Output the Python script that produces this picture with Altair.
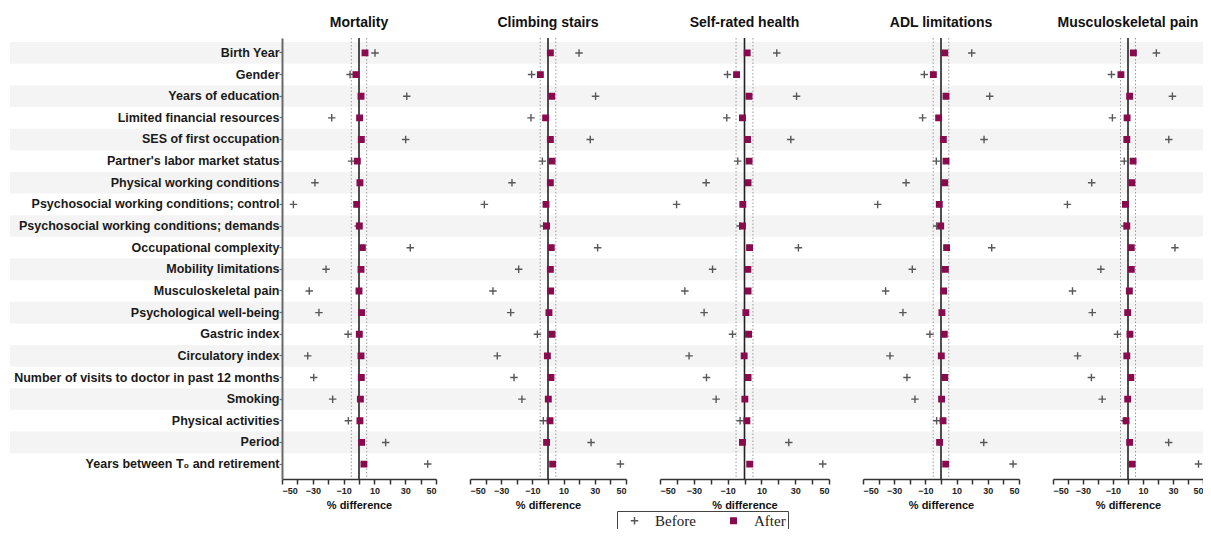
import altair as alt
import pandas as pd

labels = [
    "Birth Year", "Gender", "Years of education", "Limited financial resources",
    "SES of first occupation", "Partner's labor market status", "Physical working conditions",
    "Psychosocial working conditions; control", "Psychosocial working conditions; demands",
    "Occupational complexity", "Mobility limitations", "Musculoskeletal pain",
    "Psychological well-being", "Gastric index", "Circulatory index",
    "Number of visits to doctor in past 12 months", "Smoking", "Physical activities",
    "Period", "Years between T\u2080 and retirement",
]

panels = ["Mortality", "Climbing stairs", "Self-rated health", "ADL limitations", "Musculoskeletal pain"]

mortality_before = [10.4, -5.8, 31.0, -17.7, 30.3, -4.8, -28.6, -42.6, -0.5, 33.3,
                    -21.4, -32.3, -26.0, -7.1, -33.3, -29.4, -17.1, -6.9, 17.3, 44.6]
mortality_after = [3.9, -2.0, 1.3, 0.4, 1.5, -1.1, 0.6, -1.5, 0.2, 2.2,
                   1.3, 0.0, 1.7, 0.2, 1.3, 1.5, 0.9, 0.6, 1.7, 3.2]

stairs_before = [19.9, -10.5, 30.5, -10.9, 27.1, -3.6, -23.1, -40.8, -2.8, 31.8,
                 -18.8, -35.3, -23.9, -6.8, -32.5, -21.8, -16.7, -3.0, 27.6, 46.4]
stairs_after = [1.5, -4.9, 2.4, -1.5, 1.5, 2.6, 1.5, -1.3, -0.9, 2.1,
                1.5, 1.7, 0.6, 2.6, -0.4, 1.9, 0.2, 1.3, -0.9, 3.0]

srh_before = [19.1, -10.1, 30.8, -10.5, 27.4, -4.0, -22.7, -40.2, -2.6, 31.9,
              -18.9, -35.3, -23.9, -7.1, -32.8, -22.5, -16.8, -2.6, 26.2, 46.3]
srh_after = [1.6, -4.7, 2.7, -1.2, 1.8, 2.7, 2.1, -1.0, -1.2, 3.0,
             2.0, 2.1, 0.8, 2.4, -0.2, 2.1, 0.2, 1.4, -1.2, 3.1]

adl_before = [19.7, -10.7, 31.2, -11.8, 27.6, -3.0, -22.4, -40.6, -2.8, 32.5,
              -18.4, -35.5, -24.4, -7.1, -32.7, -21.8, -16.7, -2.8, 27.4, 46.2]
adl_after = [2.4, -4.9, 3.2, -1.5, 1.5, 3.2, 2.4, -1.1, -0.2, 3.6,
             2.8, 1.7, 0.6, 2.1, 0.2, 2.4, 0.4, 1.3, -0.9, 3.0]

msk_before = [18.9, -11.0, 29.6, -10.4, 27.2, -2.5, -24.2, -40.4, -2.3, 31.3,
              -18.1, -37.0, -23.8, -7.0, -33.6, -24.4, -17.2, -2.1, 27.1, 47.0]
msk_after = [3.6, -4.7, 1.1, -0.6, -0.8, 3.4, 2.6, -1.7, -0.8, 2.2,
             2.2, 0.9, -0.2, 1.3, -0.8, 1.9, -0.2, -1.3, 1.1, 2.8]

series = [
    (mortality_before, mortality_after),
    (stairs_before, stairs_after),
    (srh_before, srh_after),
    (adl_before, adl_after),
    (msk_before, msk_after),
]

ref_lines = [-5, 5]
tick_values = [-50, -40, -30, -20, -10, 0, 10, 20, 30, 40, 50]
types = ["Before", "After"]

panel_widths = [154, 156, 169, 156, 150]
PH = 441
FONT = "Liberation Sans"

band_df = pd.DataFrame({"label": [l for i, l in enumerate(labels) if i % 2 == 0]})
zero_df = pd.DataFrame({"v": [0]})
ref_df = pd.DataFrame({"v": ref_lines})

plus_path = "M-1,0L1,0M0,-1L0,1"


def make_panel(i):
    w = panel_widths[i]
    before, after = series[i]
    rows = []
    for lab, b, a in zip(labels, before, after):
        rows.append({"label": lab, "type": "Before", "value": b})
        rows.append({"label": lab, "type": "After", "value": a})
    df = pd.DataFrame(rows)

    xscale = alt.Scale(domain=[-50, 50], nice=False, zero=False)
    yscale = alt.Scale(domain=labels, paddingInner=0, paddingOuter=0.19)
    xaxis = alt.Axis(
        values=tick_values,
        labelExpr="datum.value % 20 == 0 ? '' : datum.label",
        title="% difference",
        grid=False,
    )
    if i == 0:
        yaxis = alt.Axis(
            title=None, labelFont=FONT, labelFontWeight="bold", labelFontSize=12.5,
            labelColor="#1a1a1a", labelPadding=0, domainColor="#6a6a6a",
            domainWidth=2, tickColor="#6a6a6a", tickSize=3, tickWidth=1.2,
            labelLimit=400, zindex=2,
        )
    else:
        yaxis = None

    left_ext = -272 if i == 0 else -17
    right_ext = w + (17 if i < 4 else 20)

    bands = alt.Chart(band_df).mark_rect(color="#f4f4f4").encode(
        x=alt.value(left_ext), x2=alt.value(right_ext),
        y=alt.Y("label:N", scale=yscale, axis=yaxis),
    )
    refs = alt.Chart(ref_df).mark_rule(
        color="#9a9a9a", strokeDash=[1.5, 2], strokeWidth=1
    ).encode(x=alt.X("v:Q", scale=xscale, axis=xaxis))
    zero = alt.Chart(zero_df).mark_rule(color="#222222", strokeWidth=1.6).encode(
        x=alt.X("v:Q", scale=xscale, axis=xaxis)
    )
    pts = alt.Chart(df).mark_point(opacity=1, strokeWidth=1.4).encode(
        x=alt.X("value:Q", scale=xscale, axis=xaxis),
        y=alt.Y("label:N", scale=yscale, axis=yaxis),
        shape=alt.Shape("type:N", scale=alt.Scale(domain=types, range=[plus_path, "square"]),
                        legend=alt.Legend(title=None)),
        color=alt.Color("type:N", scale=alt.Scale(domain=types, range=["#585858", "#870b4d"]),
                        legend=alt.Legend(title=None)),
        fill=alt.Fill("type:N", scale=alt.Scale(domain=types, range=["transparent", "#870b4d"]),
                      legend=alt.Legend(title=None)),
        size=alt.Size("type:N", scale=alt.Scale(domain=types, range=[56, 30]), legend=None),
        order=alt.Order("type:N", sort="descending"),
    )
    return alt.layer(bands, refs, zero, pts).properties(
        width=w, height=PH,
        title=alt.TitleParams(panels[i], fontSize=14, font=FONT, fontWeight="bold",
                              anchor="middle", color="#111111", offset=7),
    )


chart = alt.hconcat(*[make_panel(i) for i in range(5)], spacing=34, bounds="flush").properties(
    padding={"left": 2, "right": -20, "top": 8, "bottom": -3}
).configure_view(stroke=None).configure_axis(
    labelFont=FONT, titleFont=FONT,
).configure_axisX(
    domainColor="#333333", domainWidth=1.5, tickColor="#333333", tickWidth=1.5,
    tickSize=5, labelFontWeight="bold", labelFontSize=9, labelColor="#222222",
    labelPadding=2, titleFontSize=11, titleFontWeight="bold", titleColor="#111111",
    titlePadding=4, zindex=2,
).configure_legend(
    orient="none", legendX=335, legendY=473, direction="horizontal",
    strokeColor="#444444", padding=2, labelFont="Liberation Serif", labelFontSize=15,
    labelColor="#222222", columnPadding=22, labelOffset=13, symbolStrokeWidth=1.5,
    symbolSize=100, symbolOffset=8,
)

chart.save("out.html", embed_options={"renderer": "svg", "actions": False})
